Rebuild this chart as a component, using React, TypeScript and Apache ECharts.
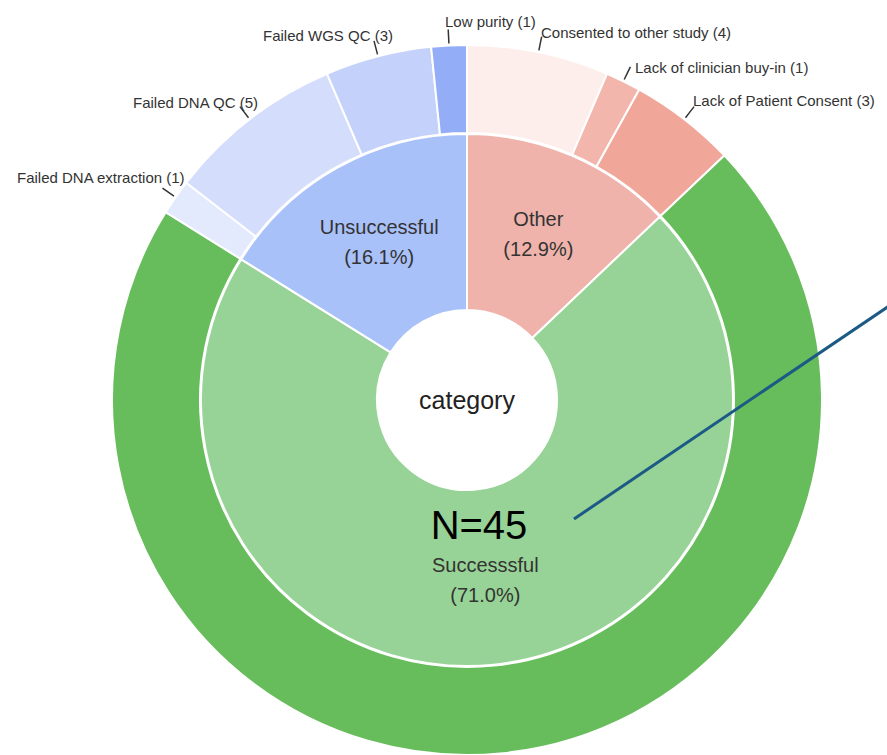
import React, { useEffect, useRef } from "react";
import * as echarts from "echarts";

// Inner ring: outcome categories (clockwise from 12 o'clock)
const innerCategories = ["Other", "Successsful", "Unsuccessful"];
const innerValues = [4, 22, 5];

// Outer ring: reasons within each category, with case counts
const otherReasons = ["Consented to other study", "Lack of clinician buy-in", "Lack of Patient Consent"];
const otherCounts = [4, 1, 3];
const unsuccessfulReasons = ["Failed DNA extraction", "Failed DNA QC", "Failed WGS QC", "Low purity"];
const unsuccessfulCounts = [1, 5, 3, 1];

const sampleSizeText = "N=45";
const centerText = "category";

// Styling
const innerColors = ["#efb3ab", "#97d396", "#a9c1f9"];
const otherColors = ["#fdeeeb", "#f3b6ac", "#f0a699"];
const successColor = "#67bd5b";
const unsuccessfulColors = ["#e3eafd", "#d4defc", "#c4d2fb", "#93aef6"];

const CX = 467;
const CY = 400;
const R_HOLE = 90;
const R_INNER = 266;
const R_OUTER = 355;

// Text anchors for outer labels, in outer-ring order (null = no label)
const outerLabelAnchors: ([number, number] | null)[] = [
  [541, 32],
  [635, 67],
  [693, 100],
  null,
  [17, 177],
  [133, 102],
  [263, 35],
  [445, 21],
];

const sum = (a: number[]) => a.reduce((s, v) => s + v, 0);

export default function App() {
  const ref = useRef<HTMLDivElement>(null);

  useEffect(() => {
    if (!ref.current) return;
    const chart = echarts.init(ref.current, undefined, { renderer: "svg" });

    const otherTotal = sum(otherCounts);
    const unsTotal = sum(unsuccessfulCounts);

    type OuterItem = { name: string; value: number; count: number | null; color: string };
    const outer: OuterItem[] = [
      ...otherReasons.map((n, i) => ({
        name: n,
        value: (otherCounts[i] / otherTotal) * innerValues[0],
        count: otherCounts[i],
        color: otherColors[i],
      })),
      { name: innerCategories[1], value: innerValues[1], count: null, color: successColor },
      ...unsuccessfulReasons.map((n, i) => ({
        name: n,
        value: (unsuccessfulCounts[i] / unsTotal) * innerValues[2],
        count: unsuccessfulCounts[i],
        color: unsuccessfulColors[i],
      })),
    ];

    // mid angles (degrees, math convention) for outer slices, clockwise from top
    const outerTotal = sum(outer.map((o) => o.value));
    const midAngles: number[] = [];
    let acc = 0;
    outer.forEach((o) => {
      const span = (o.value / outerTotal) * 360;
      midAngles.push(90 - acc - span / 2);
      acc += span;
    });

    const fontFamily = "'Liberation Sans', Arial, sans-serif";

    chart.setOption({
      animation: false,
      backgroundColor: "#ffffff",
      series: [
        {
          type: "pie",
          name: "category",
          center: [CX, CY],
          radius: [R_HOLE, R_INNER],
          startAngle: 90,
          clockwise: true,
          avoidLabelOverlap: false,
          percentPrecision: 1,
          silent: true,
          itemStyle: { borderColor: "#ffffff", borderWidth: 2 },
          label: {
            show: true,
            position: "inside",
            color: "#333333",
            fontFamily,
            fontSize: 20,
            lineHeight: 30,
            formatter: (p: any) => `${p.name}\n(${Number(p.percent).toFixed(1)}%)`,
          },
          labelLine: { show: false },
          data: innerCategories.map((n, i) => ({
            name: n,
            value: innerValues[i],
            itemStyle: { color: innerColors[i] },
          })),
        },
        {
          type: "pie",
          name: "reason",
          center: [CX, CY],
          radius: [R_INNER + 1, R_OUTER],
          startAngle: 90,
          clockwise: true,
          avoidLabelOverlap: false,
          silent: true,
          itemStyle: { borderColor: "#ffffff", borderWidth: 2 },
          label: {
            show: true,
            position: "outside",
            color: "#333333",
            fontFamily,
            fontSize: 15,
            formatter: (p: any) => {
              const it = outer[p.dataIndex];
              return it.count == null ? "" : `${it.name} (${it.count})`;
            },
          },
          labelLine: {
            show: true,
            length: 14,
            length2: 0,
            lineStyle: { color: "#333333", width: 1.5 },
          },
          labelLayout: (params: any) => {
            const i = params.dataIndex;
            const a = outerLabelAnchors[i];
            if (!a) return {};
            const rad = (midAngles[i] * Math.PI) / 180;
            const c = Math.cos(rad);
            const s = Math.sin(rad);
            return {
              x: a[0],
              y: a[1],
              align: "left",
              verticalAlign: "middle",
              labelLinePoints: [
                [CX + (R_OUTER + 2) * c, CY - (R_OUTER + 2) * s],
                [CX + (R_OUTER + 9) * c, CY - (R_OUTER + 9) * s],
                [CX + (R_OUTER + 16) * c, CY - (R_OUTER + 16) * s],
              ],
            };
          },
          data: outer.map((o) => ({
            name: o.name,
            value: o.value,
            itemStyle: { color: o.color },
            label: { show: o.count != null },
            labelLine: { show: o.count != null },
          })),
        },
      ],
      graphic: [
        {
          type: "text",
          z: 100,
          x: CX,
          y: CY,
          style: {
            text: centerText,
            x: 0,
            y: 0,
            align: "center",
            verticalAlign: "middle",
            fill: "#222222",
            font: `25px ${fontFamily}`,
          },
        },
        {
          type: "text",
          z: 100,
          x: 479,
          y: 525,
          style: {
            text: sampleSizeText,
            align: "center",
            verticalAlign: "middle",
            fill: "#000000",
            font: `40px ${fontFamily}`,
          },
        },
        {
          type: "line",
          z: 100,
          shape: { x1: 574, y1: 519, x2: 889, y2: 306 },
          style: { stroke: "#1c5a86", lineWidth: 3 },
        },
      ],
    });

    return () => chart.dispose();
  }, []);

  return (
    <div
      ref={ref}
      style={{ position: "absolute", left: 0, top: 0, width: 887, height: 755 }}
    />
  );
}
